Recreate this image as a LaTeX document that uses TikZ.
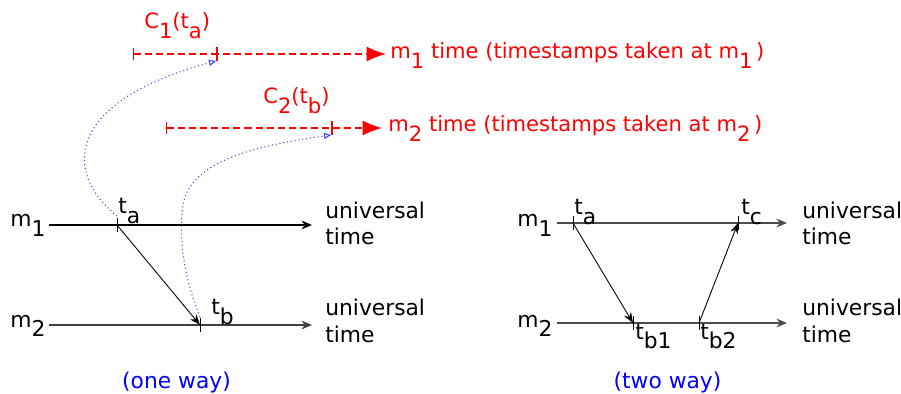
\documentclass[tikz,border=0pt]{standalone}
\usepackage{fontspec}
\setmainfont{DejaVu Sans}
\usetikzlibrary{arrows.meta}
\newcommand{\lo}[1]{\raisebox{-0.45em}{#1}}

\begin{document}
\begin{tikzpicture}[x=0.02cm, y=-0.02cm,
    every node/.style={font=\fontsize{12.4}{15.3}\selectfont, inner sep=0pt},
    lbl/.style={anchor=base west},
    clk/.style={anchor=base west, red, font=\fontsize{12}{15}\selectfont},
    ut/.style={anchor=base west, align=left},
    axis/.style={line width=0.7pt, -{Stealth[length=6pt,width=5pt]}},
    msg/.style={line width=0.5pt, -{Stealth[length=6pt,width=4.5pt]}},
    tick/.style={line width=0.5pt},
    clock/.style={red, line width=0.75pt, dash pattern=on 4pt off 2.3pt, {Bar[width=7pt]}-{Latex[length=11pt,width=8.5pt]}},
    map/.style={blue!75, line width=0.6pt, dash pattern=on 0.6pt off 1.6pt, -{Triangle[open,length=4pt,width=3.5pt]}},
    note/.style={blue, anchor=base},
]
\useasboundingbox (0,0) rectangle (901,394);

% --- clocks of m1 and m2 ---
\coordinate (k1a) at (133,54);
\coordinate (k1b) at (386,54);
\coordinate (c1) at (217,54);
\coordinate (c1foot) at (216,61);
\coordinate (k2a) at (166,128);
\coordinate (k2b) at (382,128);
\coordinate (c2) at (332,128);
\coordinate (c2foot) at (331,135);

\draw[clock] (k1a) -- (k1b);
\draw[clock] (k2a) -- (k2b);
\draw[red, line width=0.6pt] (c1) ++(0,-7) -- ++(0,14);
\draw[red, line width=0.6pt] (c2) ++(0,-7) -- ++(0,14);

\node[clk] (c1lbl) at (144,29) {C\lo{1}(t\lo{a})};
\node[clk] (c2lbl) at (263,104) {C\lo{2}(t\lo{b})};
\node[clk] (k1lbl) at (390,59) {m\lo{1} time (timestamps taken at m\lo{1}\kern2pt)};
\node[clk] (k2lbl) at (388,132) {m\lo{2} time (timestamps taken at m\lo{2}\kern2pt)};

% --- one way ---
\coordinate (l1a) at (49,225);
\coordinate (l1b) at (312,225);
\coordinate (l2a) at (49,325);
\coordinate (l2b) at (312,325);
\coordinate (ta) at (117,225);
\coordinate (tatop) at (117,216);
\coordinate (tb) at (200,325);
\coordinate (tbtop) at (200,317);

\draw[axis] (l1a) -- (l1b);
\draw[axis, black!75] (l2a) -- (l2b);
\draw[tick] (ta) ++(0,-7) -- ++(0,14);
\draw[tick] (tb) ++(0,-7) -- ++(0,14);
\draw[msg] (ta) -- (tb);

\draw[map] (tatop) .. controls (60,170) and (70,100) .. (c1foot);
\draw[map] (tbtop) .. controls (185,280) and (178,240) .. (183,205)
    .. controls (190,160) and (260,145) .. (c2foot);

\node[lbl] (m1) at (10,227) {m\lo{1}};
\node[lbl] (m2) at (10,327) {m\lo{2}};
\node[lbl] (talbl) at (118,214) {t\lo{a}};
\node[lbl] (tblbl) at (211,315) {t\lo{b}};
\node[ut] (u1) at (325,245) {universal\\time};
\node[ut] (u2) at (325,342) {universal\\time};
\node[note] (oneway) at (176.5,388) {(one way)};

% --- two way ---
\coordinate (r1a) at (557,223);
\coordinate (r1b) at (787,223);
\coordinate (r2a) at (557,323);
\coordinate (r2b) at (787,323);
\coordinate (sa) at (573,223);
\coordinate (sc) at (738,223);
\coordinate (sb1) at (633,323);
\coordinate (sb2) at (699,323);

\draw[axis, black!70] (r1a) -- (r1b);
\draw[axis, black!70] (r2a) -- (r2b);
\foreach \p in {sa,sc,sb1,sb2}
    \draw[tick] (\p) ++(0,-7) -- ++(0,14);
\draw[msg] (sa) -- (sb1);
\draw[msg] (sb2) -- (sc);

\node[lbl] (n1) at (517,227) {m\lo{1}};
\node[lbl] (n2) at (517,327) {m\lo{2}};
\node[lbl] (salbl) at (574,215) {t\lo{a}};
\node[lbl] (sclbl) at (741,215) {t\lo{c}};
\node[lbl] (sb1lbl) at (635,339) {t\lo{b1}};
\node[lbl] (sb2lbl) at (700,339) {t\lo{b2}};
\node[ut] (v1) at (802,245) {universal\\time};
\node[ut] (v2) at (802,342) {universal\\time};
\node[note] (twoway) at (667.5,388) {(two way)};
\end{tikzpicture}
\end{document}
